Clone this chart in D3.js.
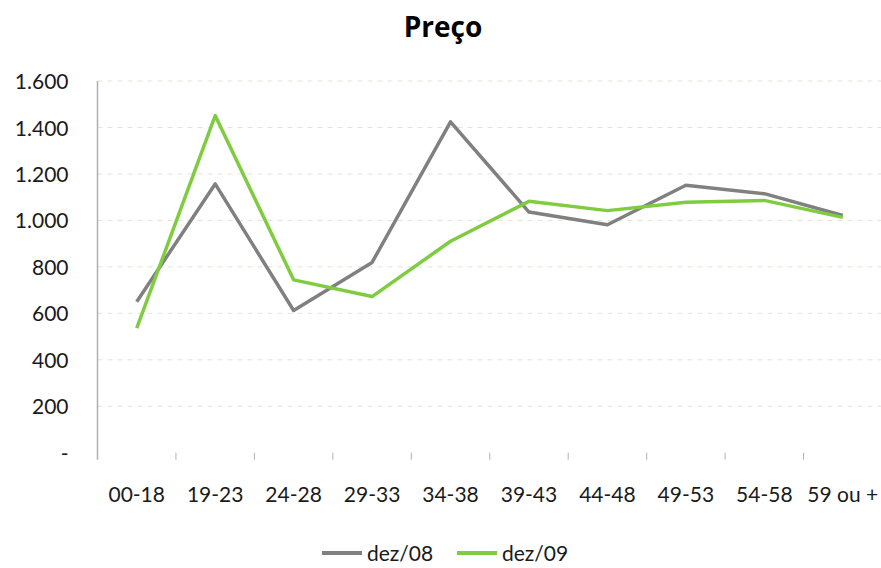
<!DOCTYPE html>
<html lang="pt">
<head>
<meta charset="utf-8">
<title>Preço</title>
<script src="https://d3js.org/d3.v7.min.js"></script>
<style>
    body { margin: 0; background: #fff; }
    text { font-family: Lato, "Open Sans", sans-serif; fill: #1a1a1a; }
    .line { fill: none; stroke-width: 3.5px; stroke-linejoin: round; }
</style>
</head>
<body>
<svg width="881" height="568"></svg>
<script>
    // dados
    var categories = ["00-18", "19-23", "24-28", "29-33", "34-38", "39-43", "44-48", "49-53", "54-58", "59 ou +"];
    var dez08 = [650, 1157, 612, 819, 1424, 1036, 981, 1151, 1115, 1021];
    var dez09 = [536, 1451, 744, 672, 910, 1082, 1042, 1078, 1086, 1013];
    var yTicks = [0, 200, 400, 600, 800, 1000, 1200, 1400, 1600];
    var seriesNames = ["dez/08", "dez/09"];
    var colors = ["#808080", "#80cc41"];

    var svg = d3.select("svg");
    var pLeft = 97.5, pRight = 882, pTop = 81, pBottom = 452.7;

    var x = d3.scaleBand().domain(categories).range([pLeft, pRight]);
    var y = d3.scaleLinear().domain([0, 1600]).range([pBottom, pTop]);

    function fmt(v) {
        if (v === 0) return "-";
        return d3.format(",")(v).replace(/,/g, ".");
    }

    // grade
    svg.append("g").selectAll("line")
        .data(yTicks.filter(function(d) { return d > 0; }))
        .enter().append("line")
        .attr("x1", pLeft).attr("x2", pRight)
        .attr("y1", function(d) { return y(d); })
        .attr("y2", function(d) { return y(d); })
        .attr("stroke", "#e4e4d4")
        .attr("stroke-width", 1)
        .attr("stroke-dasharray", "5,5");

    // eixo y
    var yAxis = svg.append("g")
        .attr("transform", "translate(" + pLeft + ",0)")
        .call(d3.axisLeft(y).tickValues(yTicks).tickFormat(fmt).tickSize(0).tickPadding(29));
    yAxis.select(".domain").remove();
    yAxis.append("line")
        .attr("x1", 0).attr("x2", 0)
        .attr("y1", pTop).attr("y2", pBottom + 7)
        .attr("stroke", "#b0b0b0").attr("stroke-width", 1.5);
    yAxis.selectAll(".tick text")
        .style("font-size", "21px")
        .attr("dy", "0.36em");

    // eixo x
    var xAxis = svg.append("g")
        .attr("transform", "translate(0," + pBottom + ")")
        .call(d3.axisBottom(x).tickSize(0).tickPadding(34));
    xAxis.select(".domain").remove();
    xAxis.selectAll(".tick text").style("font-size", "21px");
    xAxis.selectAll(".sep")
        .data(categories.slice(1))
        .enter().append("line")
        .attr("class", "sep")
        .attr("x1", function(d) { return x(d); })
        .attr("x2", function(d) { return x(d); })
        .attr("y1", 0).attr("y2", 7)
        .attr("stroke", "#b0b0b0").attr("stroke-width", 1);

    // linhas
    var line = d3.line()
        .x(function(d, i) { return x(categories[i]) + x.bandwidth() / 2; })
        .y(function(d) { return y(d); });

    [dez08, dez09].forEach(function(s, i) {
        svg.append("path")
            .datum(s)
            .attr("class", "line")
            .attr("stroke", colors[i])
            .attr("d", line);
    });

    // título
    svg.append("text")
        .attr("x", 443).attr("y", 37)
        .attr("text-anchor", "middle")
        .style("font-family", "'Open Sans', sans-serif")
        .style("font-size", "28px")
        .style("font-weight", "bold")
        .style("fill", "#000")
        .text("Preço");

    // legenda
    var legendX = [322, 457];
    var legend = svg.append("g").selectAll("g")
        .data(seriesNames)
        .enter().append("g")
        .attr("transform", function(d, i) { return "translate(" + legendX[i] + ",553)"; });
    legend.append("line")
        .attr("x1", 0).attr("x2", 40)
        .attr("stroke", function(d, i) { return colors[i]; })
        .attr("stroke-width", 4);
    legend.append("text")
        .attr("x", 45)
        .attr("dy", "0.36em")
        .style("font-size", "21px")
        .text(function(d) { return d; });
</script>
</body>
</html>
